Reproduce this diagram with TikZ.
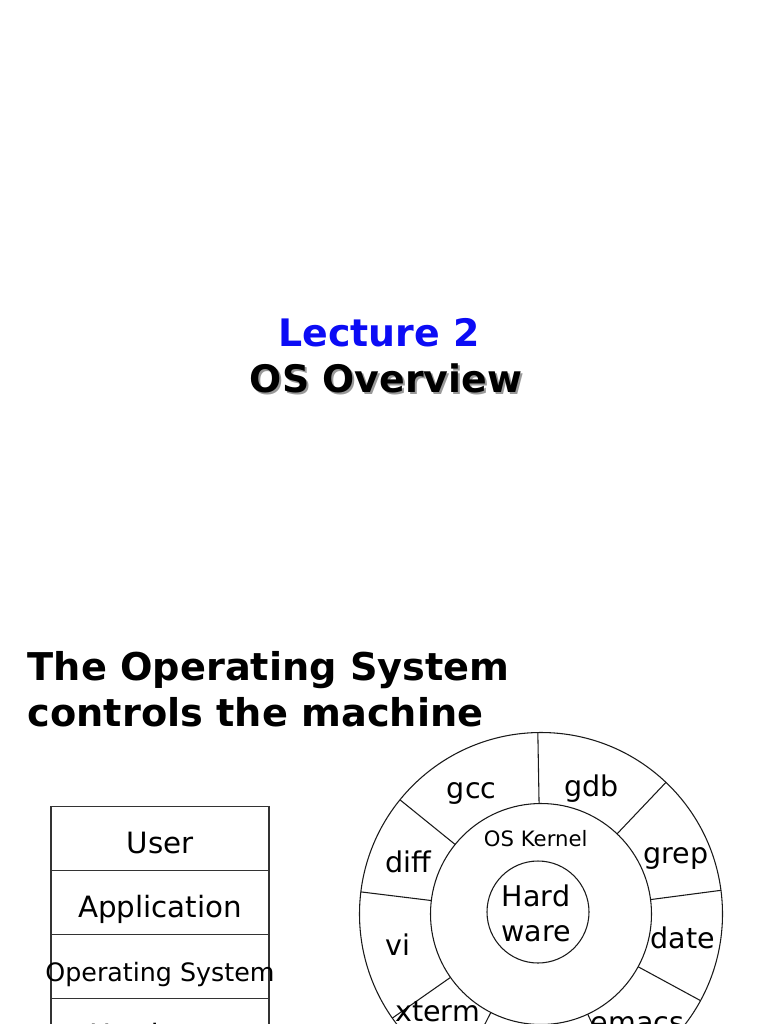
\documentclass[tikz,border=0pt]{standalone}
\usepackage{fontspec}
\setmainfont{DejaVu Sans}
\usetikzlibrary{positioning}
\definecolor{lecblue}{RGB}{12,12,245}
\newcommand{\titlefont}{\fontsize{28.4}{34}\selectfont\bfseries}
\tikzset{
  layer/.style={draw=black!80, line width=1pt, outer sep=0pt, inner sep=0pt,
    minimum width=163.5pt, minimum height=48pt, text height=21.75pt, text depth=0pt,
    font=\fontsize{22}{26}\selectfont},
  ring/.style={draw=black!90, line width=0.8pt},
  prog/.style={anchor=base, font=\fontsize{21.4}{25}\selectfont}
}
\begin{document}
\begin{tikzpicture}[x=0.75pt, y=-0.75pt]
\useasboundingbox (0,0) rectangle (768,1024);
\clip (0,0) rectangle (768,1024);
% title slide
\node[anchor=base, text=lecblue, font=\titlefont] (lecture) at (379,346) {Lecture 2};
\node[anchor=base, text=black!40, font=\titlefont] (shadow) at (388,394.5) {OS Overview};
\node[anchor=base, font=\titlefont] (topic) at (386,392) {OS Overview};
% heading of the second slide
\node[anchor=base west, font=\fontsize{28.7}{34}\selectfont\bfseries] (head1) at (23,680) {The Operating System};
\node[anchor=base west, font=\fontsize{28.7}{34}\selectfont\bfseries] (head2) at (23,726) {controls the machine};
% layered stack
\node[layer] (user) at (160,838.5) {User};
\node[layer, below=0pt of user] (app) {Application};
\node[layer, below=0pt of app, font=\fontsize{19}{22}\selectfont] (os) {\makebox[0pt]{Operating System}};
\node[layer, below=0pt of os] (hw) {Hardware};
% rings: programs around kernel around hardware
\coordinate (core) at (541,914);
\coordinate (hwcore) at (538,912);
\draw[ring] (core) circle[radius=181.5];
\draw[ring] (core) circle[radius=110.5];
\draw[ring] (hwcore) circle[radius=51];
\foreach \a in {7.5,46.5,91,141,173,215,243,295,331.5}
  \draw[ring] ([shift={(-\a:110.5)}]core) -- ([shift={(-\a:181.5)}]core);
\foreach \x/\y/\lab in {471.7/798/gcc, 591.7/796/gdb, 408/872/diff, 676/863/grep,
    398/955/vi, 683/948/date, 437.5/1021/xterm, 637.5/1032/emacs}
  \node[prog] (\lab) at (\x,\y) {\lab};
\node[anchor=base, font=\fontsize{15.9}{19}\selectfont] (kernel) at (535.7,846.7) {OS Kernel};
\node[prog] (hard) at (536,906.7) {Hard};
\node[prog] (ware) at (536,941.7) {ware};
\end{tikzpicture}
\end{document}
